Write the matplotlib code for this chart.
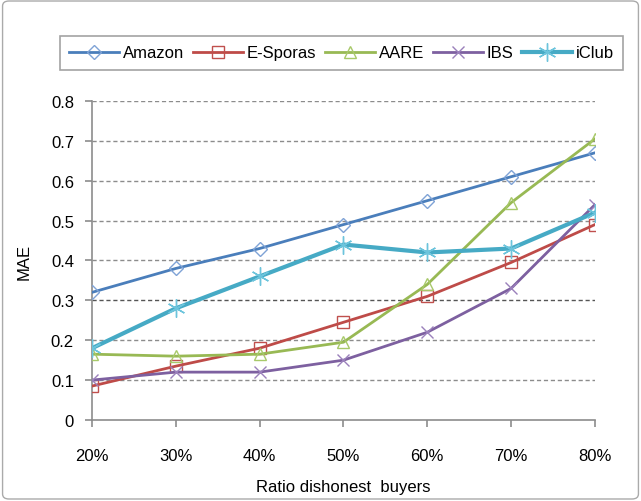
import matplotlib.pyplot as plt
from matplotlib.patches import FancyBboxPatch

plt.rcParams['font.family'] = ['Liberation Sans', 'DejaVu Sans']

ratios = ['20%', '30%', '40%', '50%', '60%', '70%', '80%']
amazon = [0.32, 0.38, 0.43, 0.49, 0.55, 0.61, 0.67]
esporas = [0.085, 0.135, 0.18, 0.245, 0.31, 0.395, 0.49]
aare = [0.165, 0.16, 0.165, 0.195, 0.34, 0.545, 0.705]
ibs = [0.10, 0.12, 0.12, 0.15, 0.22, 0.33, 0.54]
iclub = [0.18, 0.28, 0.36, 0.44, 0.42, 0.43, 0.52]

fig = plt.figure(figsize=(6.41, 5.02), dpi=100)
ax = fig.add_axes([0.1435, 0.1614, 0.7847, 0.6355])

x = list(range(len(ratios)))

# gridlines first so the series sit on top
for v in [0.1, 0.2, 0.3, 0.4, 0.5, 0.6, 0.7, 0.8]:
    ax.axhline(v, color='#555555' if v == 0.3 else '#8c8c8c', lw=1.0,
               ls=(0, (3, 2)), zorder=1)

series = [
    ('Amazon', amazon, '#4a7ebb', '#7fa3d6', 'D', 2.0, 7),
    ('E-Sporas', esporas, '#be4b48', '#c0504d', 's', 2.0, 9),
    ('AARE', aare, '#98b954', '#a8c96a', '^', 2.0, 9),
    ('IBS', ibs, '#7d60a0', '#9a80bb', 'x', 2.0, 9),
    ('iClub', iclub, '#46aac5', '#6cc4dc', (6, 2, 0), 3.0, 13),
]
for name, vals, col, mcol, mk, lw, ms in series:
    ax.plot(x, vals, color=col, lw=lw, marker=mk, markersize=ms,
            markerfacecolor='none', markeredgecolor=mcol, markeredgewidth=1.0,
            label=name, zorder=3)

ax.set_xlim(0, 6)
ax.set_ylim(0, 0.8)
ax.set_xticks(x)
ax.set_xticklabels(ratios, fontsize=12)
ax.set_yticks([0, 0.1, 0.2, 0.3, 0.4, 0.5, 0.6, 0.7, 0.8])
ax.set_yticklabels(['0', '0.1', '0.2', '0.3', '0.4', '0.5', '0.6', '0.7', '0.8'], fontsize=12)
ax.tick_params(axis='both', direction='out', length=5, color='#8c8c8c', width=1.2)
ax.tick_params(axis='x', pad=15)
ax.tick_params(axis='y', pad=8)
for s in ['top', 'right']:
    ax.spines[s].set_visible(False)
for s in ['left', 'bottom']:
    ax.spines[s].set_color('#8c8c8c')
    ax.spines[s].set_linewidth(1.2)

ax.set_ylabel('MAE', fontsize=12, labelpad=14)
ax.set_xlabel('Ratio dishonest  buyers', fontsize=12, labelpad=12)

leg = fig.legend(loc='center', bbox_to_anchor=(0.533, 0.8925), ncol=5,
                 fontsize=12, frameon=True, fancybox=False, handlelength=3.0,
                 handletextpad=0.2, columnspacing=0.55, borderpad=0.55)
leg.get_frame().set_edgecolor('#8c8c8c')
leg.get_frame().set_linewidth(1.2)

fig.patches.append(FancyBboxPatch((0.004, 0.004), 0.992, 0.992,
                                  boxstyle='round,pad=0,rounding_size=0.01',
                                  transform=fig.transFigure, fill=False,
                                  edgecolor='#aaaaaa', lw=1.0))

fig.savefig('out.png', dpi=100)
